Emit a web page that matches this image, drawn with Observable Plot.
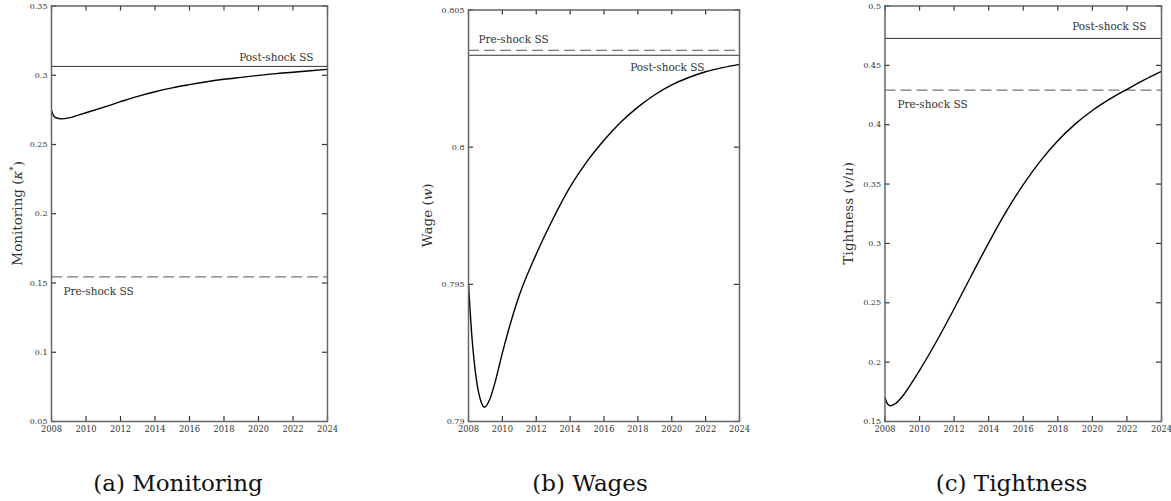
<!DOCTYPE html>
<html>
<head>
<meta charset="utf-8">
<script src="https://cdn.jsdelivr.net/npm/d3@7"></script>
<script src="https://cdn.jsdelivr.net/npm/@observablehq/plot@0.6"></script>
<style>
  body { margin: 0; background: #fff; }
  #fig { position: relative; width: 1171px; height: 501px; overflow: hidden; background: #fff;
         font-family: "DejaVu Serif", serif; }
  .panel { position: absolute; top: 0; }
  .panel svg { overflow: visible; }
  .caption { position: absolute; top: 469px; transform: translateX(-50%); font-size: 23px;
             color: #111; white-space: nowrap; line-height: 28px; }
</style>
</head>
<body>
<div id="fig"></div>
<script>
// Shared time axis
const xTicks = [2008, 2010, 2012, 2014, 2016, 2018, 2020, 2022, 2024];

// (a) Monitoring path
const monitoringYears  = [2008, 2008.1, 2008.25, 2008.58, 2009, 2009.55, 2010, 2011, 2012, 2013, 2014, 2015, 2016, 2017, 2018, 2019, 2020, 2021, 2022, 2023, 2024];
const monitoringValues = [0.2748, 0.2712, 0.2693, 0.2685, 0.2692, 0.2712, 0.2729, 0.2768, 0.2809, 0.2848, 0.2881, 0.2909, 0.2932, 0.2953, 0.2971, 0.2985, 0.2999, 0.3012, 0.3022, 0.3033, 0.3043];
const monitoringTicks  = [0.05, 0.1, 0.15, 0.2, 0.25, 0.3, 0.35];

// (b) Wage path
const wageYears  = [2008, 2008.2, 2008.45, 2008.7, 2008.95, 2009.25, 2009.6, 2010, 2011, 2012, 2013, 2014, 2015, 2016, 2017, 2018, 2019, 2020, 2021, 2022, 2023, 2024];
const wageValues = [0.7950, 0.7931, 0.7916, 0.7908, 0.79052, 0.7908, 0.7915, 0.7925, 0.7946, 0.7961, 0.7974, 0.79855, 0.79948, 0.80025, 0.80092, 0.80146, 0.80191, 0.80227, 0.80254, 0.80275, 0.8029, 0.80302];
const wageTicks  = [0.79, 0.795, 0.8, 0.805];

// (c) Tightness path
const tightnessYears  = [2008, 2008.15, 2008.33, 2008.6, 2009, 2009.5, 2010, 2011, 2012, 2013, 2014, 2015, 2016, 2017, 2018, 2019, 2020, 2021, 2022, 2023, 2024];
const tightnessValues = [0.170, 0.1648, 0.1633, 0.1650, 0.1710, 0.1815, 0.1930, 0.2180, 0.2450, 0.2730, 0.3005, 0.3265, 0.3495, 0.3695, 0.3865, 0.4005, 0.4120, 0.4215, 0.4298, 0.4378, 0.4450];
const tightnessTicks  = [0.15, 0.2, 0.25, 0.3, 0.35, 0.4, 0.45, 0.5];

// Steady states: monitoring, wage, tightness
const preShockSS  = [0.1544, 0.80353, 0.4292];
const postShockSS = [0.3064, 0.80335, 0.4727];

const captions = ["(a) Monitoring", "(b) Wages", "(c) Tightness"];

const fig = document.getElementById("fig");
const fmt = d => String(+d.toFixed(3));
const serif = "DejaVu Serif, serif";

function drawPanel(cfg) {
  const data = cfg.years.map((t, i) => ({t, v: cfg.values[i]}));
  const plotW = cfg.width - cfg.mLeft - cfg.mRight;
  const plotH = cfg.height - cfg.mTop - cfg.mBottom;
  const tickLen = 5;
  const tickStroke = "#333";
  const label = (value, text, spec) => Plot.text([value], {
    y: d => d, text: () => text, frameAnchor: spec.anchor === "start" ? "left" : "right",
    textAnchor: spec.anchor, dx: spec.dx, dy: spec.dy, lineAnchor: "middle",
    fontSize: 10.5, fill: "#333"
  });
  const svg = Plot.plot({
    width: cfg.width, height: cfg.height,
    marginLeft: cfg.mLeft, marginRight: cfg.mRight, marginTop: cfg.mTop, marginBottom: cfg.mBottom,
    x: {domain: [2008, 2024]},
    y: {domain: [cfg.ticks[0], cfg.ticks[cfg.ticks.length - 1]]},
    style: {fontFamily: serif, fontSize: "8px", color: "#333", background: "transparent"},
    marks: [
      Plot.ruleY([cfg.pre], {stroke: "#777", strokeWidth: 1.3, strokeDasharray: "11,5"}),
      Plot.ruleY([cfg.post], {stroke: "#333", strokeWidth: 1}),
      Plot.line(data, {x: "t", y: "v", curve: "monotone-x", stroke: "#000", strokeWidth: 1.4}),
      label(cfg.pre, "Pre-shock SS", cfg.preLabel),
      label(cfg.post, "Post-shock SS", cfg.postLabel),
      // inward ticks on all four sides
      Plot.tickX(xTicks, {x: d => d, insetTop: plotH - tickLen, stroke: tickStroke, strokeWidth: 1.2}),
      Plot.tickX(xTicks, {x: d => d, insetBottom: plotH - tickLen, stroke: tickStroke, strokeWidth: 1.2}),
      Plot.tickY(cfg.ticks, {y: d => d, insetRight: plotW - tickLen, stroke: tickStroke, strokeWidth: 1.2}),
      Plot.tickY(cfg.ticks, {y: d => d, insetLeft: plotW - tickLen, stroke: tickStroke, strokeWidth: 1.2}),
      Plot.frame({stroke: "#666", strokeWidth: 1.5}),
      Plot.axisX(xTicks, {tickSize: 0, tickPadding: 5, tickFormat: d => String(d), label: null, fontSize: 8.3}),
      Plot.axisY(cfg.ticks, {tickSize: 0, tickPadding: 4, tickFormat: fmt, label: null})
    ]
  });

  // rotated y-axis title with italic symbols
  const title = d3.select(svg).append("text")
    .attr("transform", `translate(${cfg.titleX},${cfg.mTop + plotH / 2}) rotate(-90)`)
    .attr("text-anchor", "middle")
    .attr("dominant-baseline", "central")
    .attr("fill", "#333")
    .style("font-family", serif)
    .style("font-size", "13.5px");
  cfg.title.forEach(([txt, style]) => {
    const ts = title.append("tspan").text(txt);
    if (style === "i") ts.style("font-style", "italic");
    if (style === "sup") ts.attr("dy", "-0.4em").style("font-size", "9px");
    if (style === "after-sup") ts.attr("dy", "0.4em");
  });

  const div = document.createElement("div");
  div.className = "panel";
  div.style.left = cfg.left + "px";
  div.appendChild(svg);
  fig.appendChild(div);

  const cap = document.createElement("div");
  cap.className = "caption";
  cap.style.left = cfg.captionX + "px";
  cap.textContent = cfg.caption;
  fig.appendChild(cap);
}

drawPanel({
  years: monitoringYears, values: monitoringValues, ticks: monitoringTicks,
  pre: preShockSS[0], post: postShockSS[0],
  left: 0, width: 360, height: 445, mLeft: 51, mRight: 33, mTop: 5.5, mBottom: 24,
  preLabel: {anchor: "start", dx: 12, dy: 15}, postLabel: {anchor: "end", dx: -14, dy: -9},
  titleX: 16.5, title: [["Monitoring ("], ["κ", "i"], ["*", "sup"], [")", "after-sup"]],
  caption: captions[0], captionX: 178
});

drawPanel({
  years: wageYears, values: wageValues, ticks: wageTicks,
  pre: preShockSS[1], post: postShockSS[1],
  left: 380, width: 390, height: 445, mLeft: 88, mRight: 31, mTop: 9.5, mBottom: 24,
  preLabel: {anchor: "start", dx: 10, dy: -11}, postLabel: {anchor: "end", dx: -35, dy: 12},
  titleX: 46.5, title: [["Wage ("], ["w", "i"], [")"]],
  caption: captions[1], captionX: 590
});

drawPanel({
  years: tightnessYears, values: tightnessValues, ticks: tightnessTicks,
  pre: preShockSS[2], post: postShockSS[2],
  left: 800, width: 371, height: 445, mLeft: 84.5, mRight: 10, mTop: 5.5, mBottom: 24,
  preLabel: {anchor: "start", dx: 12.5, dy: 15}, postLabel: {anchor: "end", dx: -15, dy: -12},
  titleX: 48, title: [["Tightness ("], ["v", "i"], ["/"], ["u", "i"], [")"]],
  caption: captions[2], captionX: 1011.5
});
</script>
</body>
</html>
